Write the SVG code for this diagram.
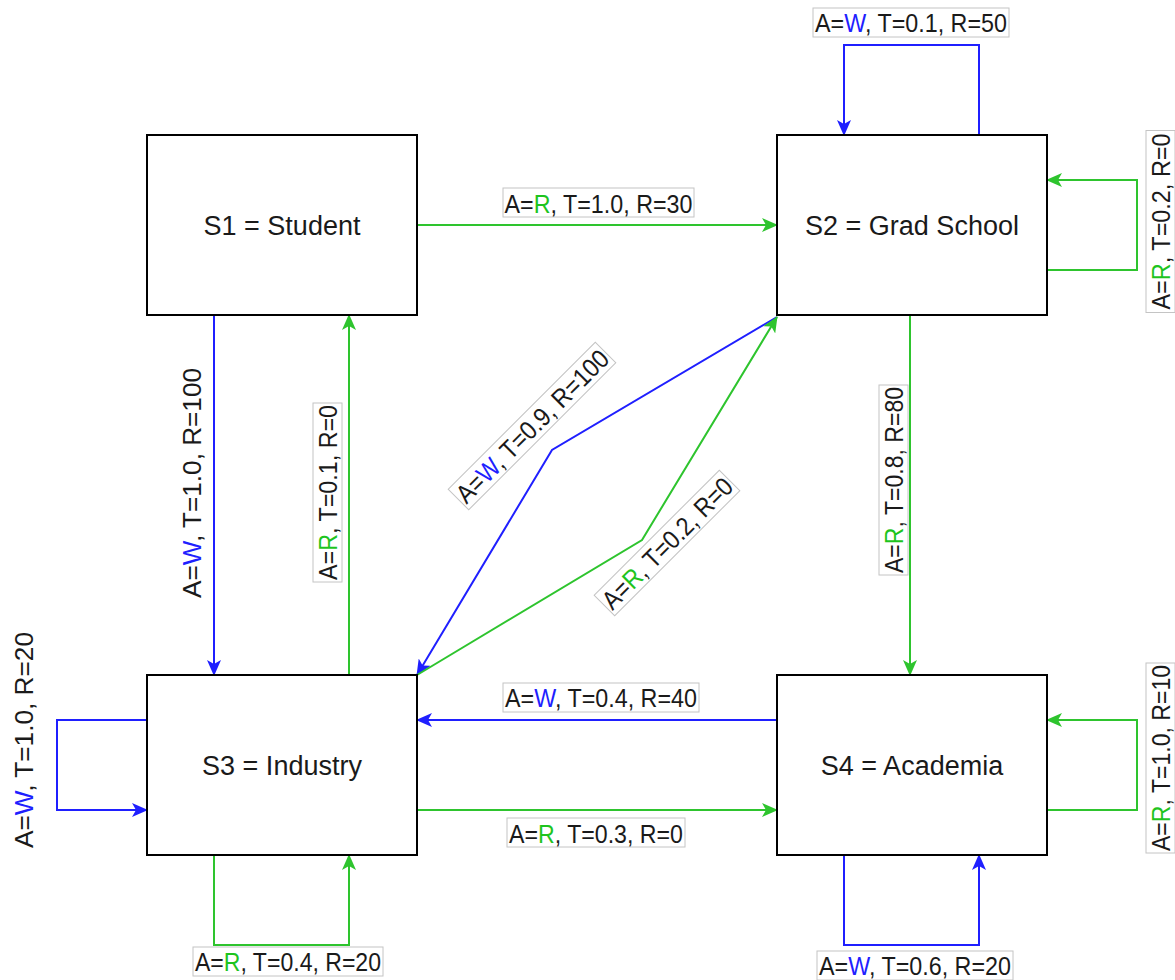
<svg xmlns="http://www.w3.org/2000/svg" width="1175" height="980" viewBox="0 0 1175 980">
<style>
.node rect{fill:#fff;stroke:#000;stroke-width:2}
.node text{font-family:"Liberation Sans",Arial,sans-serif;font-size:27px;fill:#1a1a1a;text-anchor:middle}
.e{fill:none;stroke-width:2}
.b{stroke:#1f1fff}
.g{stroke:#2ec42e}
.lbl{font-family:"Liberation Sans",Arial,sans-serif;font-size:26px;fill:#1a1a1a;text-anchor:middle}
.lb{fill:#fff;stroke:#c4c4c4;stroke-width:1}
.W{fill:#1f1fff}
.R{fill:#1ec41e}
</style>
<defs>
<marker id="ab" viewBox="0 0 16 14" refX="15" refY="7" markerWidth="16" markerHeight="14" markerUnits="userSpaceOnUse" orient="auto"><path d="M0,0 L16,7 L0,14 L4,7 z" fill="#1f1fff"/></marker>
<marker id="ag" viewBox="0 0 16 14" refX="15" refY="7" markerWidth="16" markerHeight="14" markerUnits="userSpaceOnUse" orient="auto"><path d="M0,0 L16,7 L0,14 L4,7 z" fill="#2ec42e"/></marker>
</defs>
<g id="connectors">
<path class="e g" d="M417,225 H777" marker-end="url(#ag)"/>
<path class="e b" d="M979,135 V45 H844 V135" marker-end="url(#ab)"/>
<path class="e g" d="M1047,270 H1137 V180 H1047" marker-end="url(#ag)"/>
<path class="e g" d="M910,315 V675" marker-end="url(#ag)"/>
<path class="e b" d="M777,720 H417" marker-end="url(#ab)"/>
<path class="e g" d="M417,810 H777" marker-end="url(#ag)"/>
<path class="e g" d="M1047,810 H1137 V720 H1047" marker-end="url(#ag)"/>
<path class="e b" d="M844,855 V945 H979 V855" marker-end="url(#ab)"/>
<path class="e g" d="M214,855 V945 H349 V855" marker-end="url(#ag)"/>
<path class="e b" d="M147,720 H57 V810 H147" marker-end="url(#ab)"/>
<path class="e b" d="M214,315 V675" marker-end="url(#ab)"/>
<path class="e g" d="M349,675 V315" marker-end="url(#ag)"/>
<path class="e b" d="M777,317 L552,450 L417,675" marker-end="url(#ab)"/>
<path class="e g" d="M417,675 L642,540 L777,317" marker-end="url(#ag)"/>
<g id="labels">
<rect class="lb" x="503" y="188" width="191" height="29"/>
<text class="lbl" x="598.5" y="213" textLength="188" lengthAdjust="spacingAndGlyphs">A=<tspan class="R">R</tspan>, T=1.0, R=30</text>
<rect class="lb" x="813" y="8" width="196" height="29"/>
<text class="lbl" x="911" y="32" textLength="192" lengthAdjust="spacingAndGlyphs">A=<tspan class="W">W</tspan>, T=0.1, R=50</text>
<rect class="lb" x="503" y="683" width="196" height="29"/>
<text class="lbl" x="601" y="707" textLength="192" lengthAdjust="spacingAndGlyphs">A=<tspan class="W">W</tspan>, T=0.4, R=40</text>
<rect class="lb" x="507" y="818" width="178" height="29"/>
<text class="lbl" x="596" y="843" textLength="174" lengthAdjust="spacingAndGlyphs">A=<tspan class="R">R</tspan>, T=0.3, R=0</text>
<rect class="lb" x="817" y="951" width="196" height="29"/>
<text class="lbl" x="915" y="975" textLength="192" lengthAdjust="spacingAndGlyphs">A=<tspan class="W">W</tspan>, T=0.6, R=20</text>
<rect class="lb" x="193" y="947" width="190" height="29"/>
<text class="lbl" x="288" y="971" textLength="186" lengthAdjust="spacingAndGlyphs">A=<tspan class="R">R</tspan>, T=0.4, R=20</text>
<g transform="translate(1170,221.5) rotate(-90)">
<rect class="lb" x="-91" y="-24" width="182" height="29"/>
<text class="lbl" x="0" y="0" textLength="176" lengthAdjust="spacingAndGlyphs">A=<tspan class="R">R</tspan>, T=0.2, R=0</text>
</g>
<g transform="translate(1170,758) rotate(-90)">
<rect class="lb" x="-95" y="-24" width="190" height="29"/>
<text class="lbl" x="0" y="0" textLength="186" lengthAdjust="spacingAndGlyphs">A=<tspan class="R">R</tspan>, T=1.0, R=10</text>
</g>
<g transform="translate(903,480) rotate(-90)">
<rect class="lb" x="-95" y="-24" width="190" height="29"/>
<text class="lbl" x="0" y="0" textLength="186" lengthAdjust="spacingAndGlyphs">A=<tspan class="R">R</tspan>, T=0.8, R=80</text>
</g>
<g transform="translate(337,492.5) rotate(-90)">
<rect class="lb" x="-89.5" y="-24" width="179" height="29"/>
<text class="lbl" x="0" y="0" textLength="175" lengthAdjust="spacingAndGlyphs">A=<tspan class="R">R</tspan>, T=0.1, R=0</text>
</g>
<g transform="translate(201,483) rotate(-90)">
<text class="lbl" x="0" y="0" textLength="230" lengthAdjust="spacingAndGlyphs">A=<tspan class="W">W</tspan>, T=1.0, R=100</text>
</g>
<g transform="translate(33,740) rotate(-90)">
<text class="lbl" x="0" y="0" textLength="216" lengthAdjust="spacingAndGlyphs">A=<tspan class="W">W</tspan>, T=1.0, R=20</text>
</g>
<g transform="translate(532,426) rotate(-45)">
<rect class="lb" x="-104" y="-14.5" width="208" height="29"/>
<text class="lbl" x="0" y="9.5" textLength="204" lengthAdjust="spacingAndGlyphs">A=<tspan class="W">W</tspan>, T=0.9, R=100</text>
</g>
<g transform="translate(667,543) rotate(-45)">
<rect class="lb" x="-88.5" y="-14.5" width="177" height="29"/>
<text class="lbl" x="0" y="9.5" textLength="173" lengthAdjust="spacingAndGlyphs">A=<tspan class="R">R</tspan>, T=0.2, R=0</text>
</g>
</g>
</g>
<g id="S1" class="node"><rect x="147" y="135" width="270" height="180"/><text x="282" y="235">S1 = Student</text></g>
<g id="S2" class="node"><rect x="777" y="135" width="270" height="180"/><text x="912" y="235">S2 = Grad School</text></g>
<g id="S3" class="node"><rect x="147" y="675" width="270" height="180"/><text x="282" y="775">S3 = Industry</text></g>
<g id="S4" class="node"><rect x="777" y="675" width="270" height="180"/><text x="912" y="775">S4 = Academia</text></g>
</svg>
